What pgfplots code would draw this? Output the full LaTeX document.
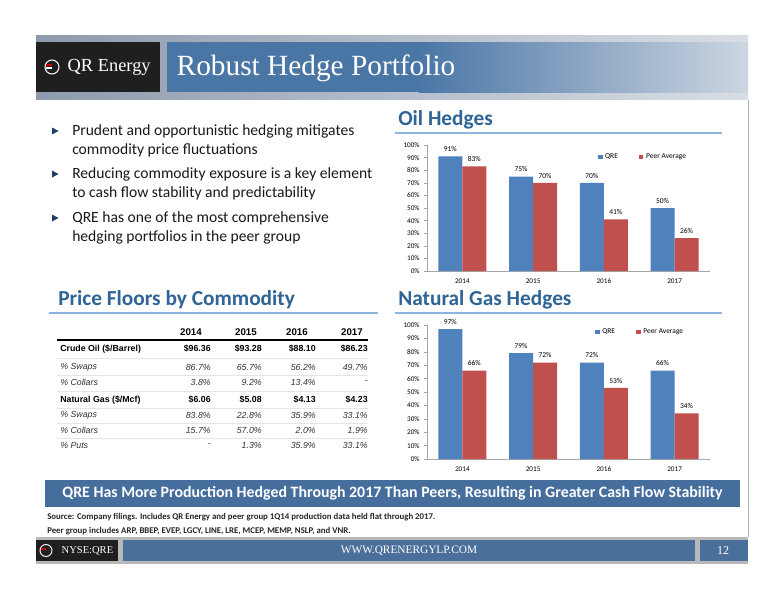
\documentclass[border=0pt]{standalone}
\usepackage{pgfplots}
\pgfplotsset{compat=1.18}
\usepackage{fontspec}
\setmainfont{Carlito}
\newfontfamily\arialf{Liberation Sans}
\newfontfamily\timesf{Liberation Serif}
\definecolor{qblue}{HTML}{4F81BD}
\definecolor{qred}{HTML}{C0504D}
\definecolor{stripL}{HTML}{8E9BAE}
\definecolor{stripR}{HTML}{D9DEE5}
\definecolor{titleL}{HTML}{4A76A6}
\definecolor{titleR}{HTML}{CDD6E1}
\definecolor{headblue}{HTML}{2F6496}
\definecolor{lineblue}{HTML}{8DB3E2}
\definecolor{banner}{HTML}{466E9D}
\definecolor{footblue}{HTML}{4B6F9B}
\definecolor{bulletc}{HTML}{1F3D66}
\pgfplotsset{
  hedge/.style={
    scale only axis, anchor=south west,
    width=212.25pt,
    ymin=0, ymax=100, xmin=-0.5, xmax=3.5,
    ybar=0pt, bar width=18pt,
    axis lines*=left,
    axis line style={gray!70, line width=0.5pt},
    ytick={0,10,...,100},
    yticklabel={\pgfmathprintnumber{\tick}\%},
    xtick={0,1,2,3},
    xticklabels={2014,2015,2016,2017},
    tick label style={font=\fontsize{5.4}{6}\selectfont},
    /pgf/number format/assume math mode=true,
    major x tick style={draw=none},
    ytick style={gray!70},
    tick align=outside, major tick length=2pt,
    nodes near coords={\pgfmathprintnumber{\pgfplotspointmeta}\%},
    nodes near coords style={font=\fontsize{5.6}{6}\selectfont, black},
    legend style={draw=none, fill=none, legend columns=2,
      font=\fontsize{5.6}{6}\selectfont,
      /tikz/every even column/.style={column sep=14pt}},
    legend image code/.code={\fill[##1] (0pt,-1.6pt) rectangle (3.2pt,1.6pt);},
    clip=false,
  }
}
\begin{document}
\begin{tikzpicture}[x=0.75pt,y=-0.75pt]
\fill[white] (0,0) rectangle (776,600);
\coordinate (oilO) at (427,271);
\coordinate (gasO) at (427,459);
% header
\shade[left color=stripL, right color=stripR] (36,35) rectangle (748,100);
\fill[black!88] (36,42) rectangle (160,92);
\fill[titleL] (167,42) rectangle (420,92);
\shade[left color=titleL, right color=titleR] (419,42) rectangle (748,92);
\node[anchor=west, text=white, font=\timesf\fontsize{22}{26}\selectfont] at (172,68) {Robust Hedge Portfolio};
\draw[white, line width=0.8pt] (52,67) circle (7);
\draw[red!80!black, line width=1pt] (46,65) -- (52,65);
\draw[white, line width=0.8pt] (46,68) -- (52,68);
\node[anchor=west, text=white, font=\timesf\fontsize{13.8}{15}\selectfont] at (63,67) {QR Energy};
% body
\fill[white] (36,100) rectangle (748,537);
\draw[gray!60] (748,100) -- (748,537);
% bullets
\foreach \yy in {131,174,218}{
  \fill[bulletc] (52,\yy-3.5) -- (58.5,\yy) -- (52,\yy+3.5) -- cycle;
}
\begin{scope}[every node/.style={anchor=west, font=\fontsize{11.7}{14}\selectfont, text=black!90, inner sep=0pt}]
\node at (72,131) {Prudent and opportunistic hedging mitigates};
\node at (72,150) {commodity price fluctuations};
\node at (72,174) {Reducing commodity exposure is a key element};
\node at (72,193) {to cash flow stability and predictability};
\node at (72,218) {QRE has one of the most comprehensive};
\node at (72,237) {hedging portfolios in the peer group};
\end{scope}
% section headers
\begin{scope}[every node/.style={anchor=west, font=\bfseries\fontsize{16}{18}\selectfont, text=headblue, inner sep=0pt}]
\node at (398,120) {Oil Hedges};
\node at (398,300) {Natural Gas Hedges};
\node at (58,300) {Price Floors by Commodity};
\end{scope}
\draw[lineblue, line width=0.8pt] (395,133) -- (722,133);
\draw[lineblue, line width=0.8pt] (395,313) -- (722,313);
\draw[lineblue, line width=0.8pt] (49,313) -- (378,313);
% table
\begin{scope}[every node/.style={inner sep=0pt, font=\arialf\bfseries\fontsize{7.3}{8}\selectfont}]
\node at (191,332) {2014};
\node at (246,332) {2015};
\node at (297,332) {2016};
\node at (352,332) {2017};
\end{scope}
\draw[black, line width=1pt] (57,340) -- (368,340);
\foreach \yy in {358,375,391,408,423,438}{\draw[gray!20, line width=0.3pt] (57,\yy) -- (368,\yy);}
\begin{scope}[every node/.style={inner sep=0pt, font=\arialf\bfseries\fontsize{6.6}{8}\selectfont}]
\node[anchor=west] at (60,349) {Crude Oil (\$/Barrel)};
\node[anchor=east] at (211,349) {\$96.36};
\node[anchor=east] at (262,349) {\$93.28};
\node[anchor=east] at (316,349) {\$88.10};
\node[anchor=east] at (368,349) {\$86.23};
\node[anchor=west] at (60,400) {Natural Gas (\$/Mcf)};
\node[anchor=east] at (211,400) {\$6.06};
\node[anchor=east] at (262,400) {\$5.08};
\node[anchor=east] at (316,400) {\$4.13};
\node[anchor=east] at (368,400) {\$4.23};
\end{scope}
\begin{scope}[every node/.style={inner sep=0pt, text=black!80, font=\arialf\itshape\fontsize{6.6}{8}\selectfont}]
\node[anchor=west] at (60,367) {\% Swaps};
\node[anchor=east] at (211,367) {86.7\%};
\node[anchor=east] at (262,367) {65.7\%};
\node[anchor=east] at (316,367) {56.2\%};
\node[anchor=east] at (368,367) {49.7\%};
\node[anchor=west] at (60,382) {\% Collars};
\node[anchor=east] at (211,382) {3.8\%};
\node[anchor=east] at (262,382) {9.2\%};
\node[anchor=east] at (316,382) {13.4\%};
\node[anchor=east] at (368,382) {-};
\node[anchor=west] at (60,415) {\% Swaps};
\node[anchor=east] at (211,415) {83.8\%};
\node[anchor=east] at (262,415) {22.8\%};
\node[anchor=east] at (316,415) {35.9\%};
\node[anchor=east] at (368,415) {33.1\%};
\node[anchor=west] at (60,430) {\% Collars};
\node[anchor=east] at (211,430) {15.7\%};
\node[anchor=east] at (262,430) {57.0\%};
\node[anchor=east] at (316,430) {2.0\%};
\node[anchor=east] at (368,430) {1.9\%};
\node[anchor=west] at (60,445) {\% Puts};
\node[anchor=east] at (211,445) {-};
\node[anchor=east] at (262,445) {1.3\%};
\node[anchor=east] at (316,445) {35.9\%};
\node[anchor=east] at (368,445) {33.1\%};
\end{scope}
% oil chart
\begin{axis}[hedge, at={(oilO)}, height=94.5pt,
  legend style={at={(0.59,0.905)}, anchor=west}]
\addplot[fill=qblue, draw=none] coordinates {(0,91) (1,75) (2,70) (3,50)};
\addplot[fill=qred, draw=none] coordinates {(0,83) (1,70) (2,41) (3,26)};
\legend{QRE, Peer Average}
\end{axis}
% gas chart
\begin{axis}[hedge, at={(gasO)}, height=100.5pt,
  legend style={at={(0.58,0.95)}, anchor=west}]
\addplot[fill=qblue, draw=none] coordinates {(0,97) (1,79) (2,72) (3,66)};
\addplot[fill=qred, draw=none] coordinates {(0,66) (1,72) (2,53) (3,34)};
\legend{QRE, Peer Average}
\end{axis}
% banner
\fill[banner] (45,480) rectangle (740,507);
\node[text=white, font=\bfseries\fontsize{11.9}{13}\selectfont] at (392.5,493.5) {QRE Has More Production Hedged Through 2017 Than Peers, Resulting in Greater Cash Flow Stability};
\begin{scope}[every node/.style={anchor=west, inner sep=0pt, font=\bfseries\fontsize{6.6}{8}\selectfont, text=black!85}]
\node at (47,517) {Source: Company filings. Includes QR Energy and peer group 1Q14 production data held flat through 2017.};
\node at (47,531) {Peer group includes ARP, BBEP, EVEP, LGCY, LINE, LRE, MCEP, MEMP, NSLP, and VNR.};
\end{scope}
% footer
\fill[gray!55] (36,537) rectangle (748,564);
\fill[black!88] (36,540) rectangle (118,561);
\fill[footblue] (123,540) rectangle (695,561);
\fill[footblue] (700,540) rectangle (748,561);
\draw[white, line width=0.7pt] (46,550.5) circle (6);
\draw[red!80!black, line width=0.9pt] (41,549) -- (46,549);
\node[anchor=west, text=white, font=\timesf\fontsize{7.9}{9}\selectfont] at (57,550.5) {NYSE:QRE};
\node[text=white, font=\timesf\fontsize{8.5}{10}\selectfont] at (409,550.5) {WWW.QRENERGYLP.COM};
\node[text=white, font=\timesf\fontsize{9}{10}\selectfont] at (723,550.5) {12};
\end{tikzpicture}
\end{document}
